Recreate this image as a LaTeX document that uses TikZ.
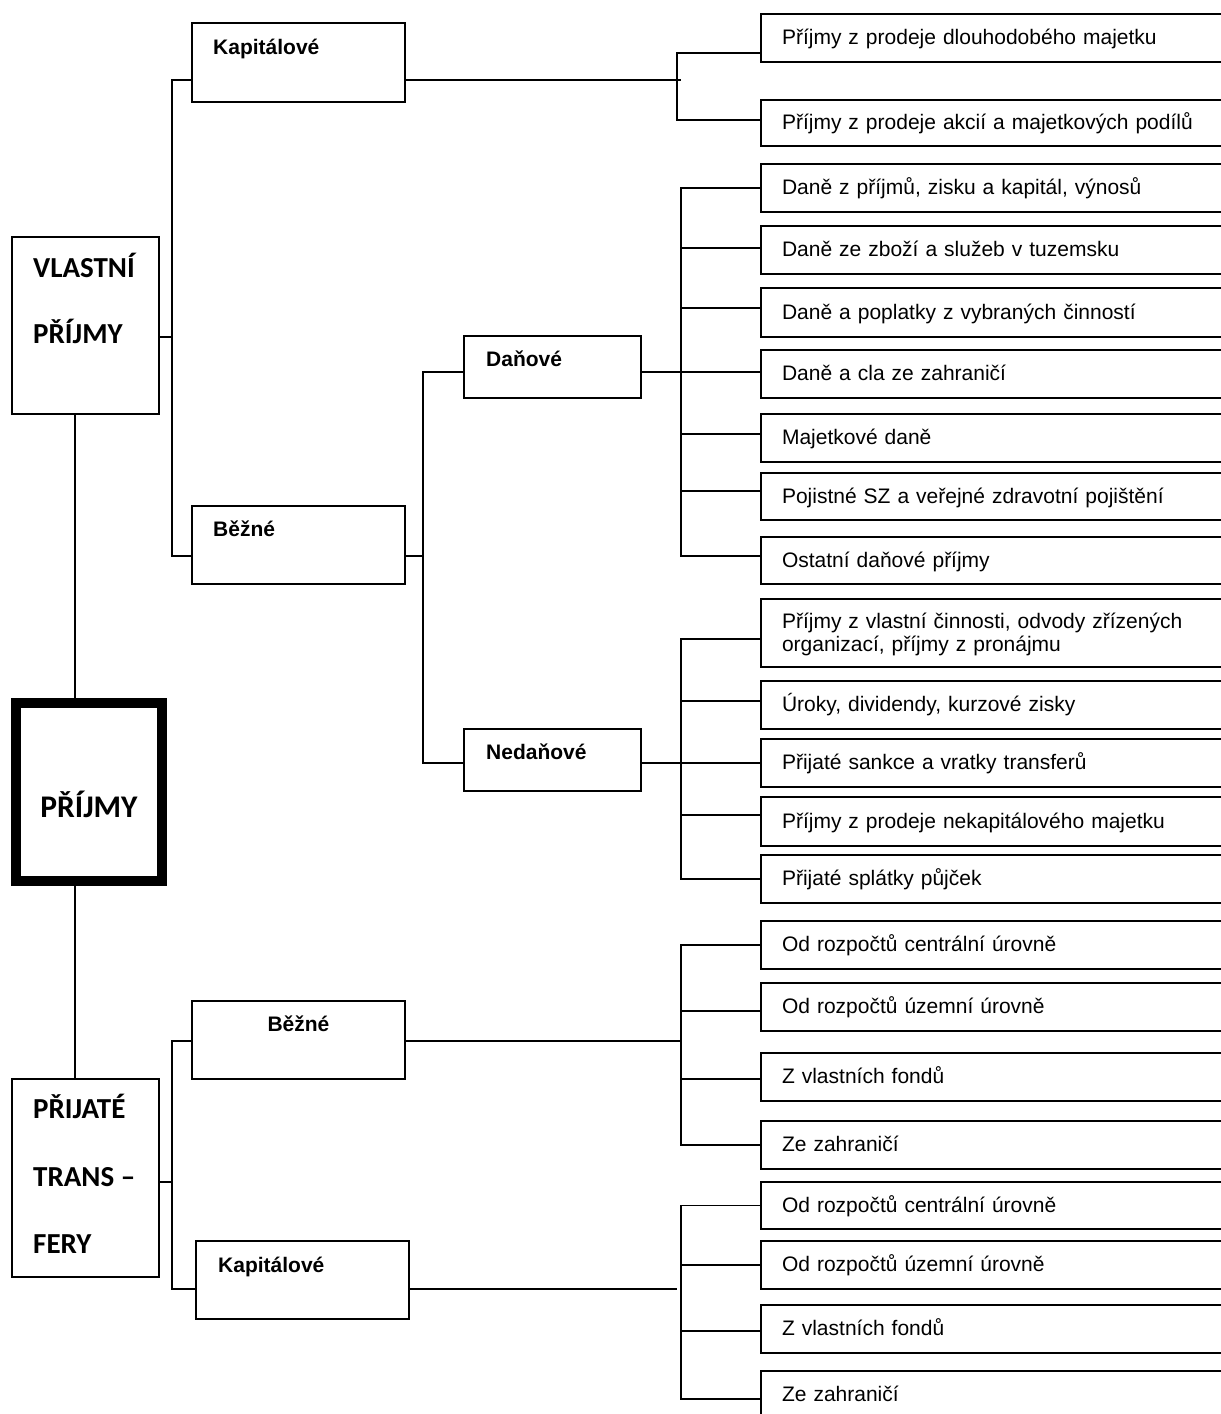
\documentclass[tikz,border=0pt]{standalone}
\usepackage{fontspec}
\setmainfont{Liberation Sans}
\newfontfamily\calfont{Carlito}
\begin{document}
\begin{tikzpicture}[x=1pt,y=-1pt,
  box/.style={draw, line width=2pt, inner sep=0pt, outer sep=0pt, anchor=north west},
  leaf/.style={draw, line width=2pt, anchor=north west, outer sep=0pt, inner xsep=21pt, inner ysep=0pt,
    minimum width=470pt, text width=428pt, align=left, text height=17pt, text depth=4pt,
    font=\fontsize{21}{23}\selectfont},
  lbl/.style={inner sep=0pt, anchor=base west, font=\fontsize{21}{23}\selectfont\bfseries},
  big/.style={inner sep=0pt, anchor=base west, font=\calfont\bfseries\fontsize{29}{30}\selectfont},
  conn/.style={line width=1.9pt},
  thinconn/.style={line width=1.5pt}]
\useasboundingbox (0,0) rectangle (1221,1414);
\clip (0,0) rectangle (1221,1414);

% ---------- main categories ----------
\node[box, minimum width=147pt, minimum height=177pt] (vp) at (12,237) {};
\node[big] (vpa) at ([xshift=21pt,yshift=-40pt]vp.north west) {VLASTNÍ};
\node[big] (vpb) at ([xshift=21pt,yshift=-106pt]vp.north west) {PŘÍJMY};

\node[draw, line width=10pt, inner sep=0pt, outer sep=0pt, anchor=north west,
      minimum width=146pt, minimum height=178pt] (prijmy) at (16,703) {};
\node[inner sep=0pt, anchor=base, font=\calfont\bfseries\fontsize{31.5}{33}\selectfont]
      (prijmyt) at ([yshift=-25pt]prijmy.center) {PŘÍJMY};

\node[box, minimum width=147pt, minimum height=198pt] (pt) at (12,1079) {};
\node[big] (pta) at ([xshift=21pt,yshift=-39pt]pt.north west) {PŘIJATÉ};
\node[big] (ptb) at ([xshift=21pt,yshift=-107pt]pt.north west) {TRANS –};
\node[big] (ptc) at ([xshift=21pt,yshift=-174pt]pt.north west) {FERY};

% ---------- second level ----------
\node[box, minimum width=213pt, minimum height=79pt] (kapA) at (192,23) {};
\node[lbl] (kapAt) at ([xshift=21pt,yshift=-31pt]kapA.north west) {Kapitálové};
\node[box, minimum width=213pt, minimum height=78pt] (bezA) at (192,506) {};
\node[lbl] (bezAt) at ([xshift=21pt,yshift=-30pt]bezA.north west) {Běžné};
\node[box, minimum width=213pt, minimum height=78pt] (bezB) at (192,1001) {};
\node[lbl, anchor=base] (bezBt) at ([yshift=-30pt]bezB.north) {Běžné};
\node[box, minimum width=213pt, minimum height=78pt] (kapB) at (196,1241) {};
\node[lbl] (kapBt) at ([xshift=22pt,yshift=-31pt]kapB.north west) {Kapitálové};

% ---------- third level ----------
\node[box, minimum width=177pt, minimum height=62pt] (dan) at (464,336) {};
\node[lbl] (dant) at ([xshift=22pt,yshift=-30pt]dan.north west) {Daňové};
\node[box, minimum width=177pt, minimum height=62pt] (ned) at (464,729) {};
\node[lbl] (nedt) at ([xshift=22pt,yshift=-30pt]ned.north west) {Nedaňové};

% ---------- leaves ----------
\node[leaf, minimum height=48pt] (r1) at (761,14) {Příjmy z prodeje dlouhodobého majetku};
\node[leaf, minimum height=46pt] (r2) at (761,100) {Příjmy z prodeje akcií a majetkových podílů};

\node[leaf, minimum height=48pt] (d1) at (761,164) {Daně z příjmů, zisku a kapitál, výnosů};
\node[leaf, minimum height=48pt] (d2) at (761,226) {Daně ze zboží a služeb v tuzemsku};
\node[leaf, minimum height=49pt] (d3) at (761,288) {Daně a poplatky z vybraných činností};
\node[leaf, minimum height=48pt] (d4) at (761,350) {Daně a cla ze zahraničí};
\node[leaf, minimum height=48pt] (d5) at (761,414) {Majetkové daně};
\node[leaf, minimum height=47pt] (d6) at (761,473) {Pojistné SZ a veřejné zdravotní pojištění};
\node[leaf, minimum height=47pt] (d7) at (761,537) {Ostatní daňové příjmy};

\node[leaf, minimum height=68pt, text height=17pt, text depth=27pt] (n1) at (761,599)
  {Příjmy z vlastní činnosti, odvody zřízených\\organizací, příjmy z pronájmu};
\node[leaf, minimum height=48pt] (n2) at (761,681) {Úroky, dividendy, kurzové zisky};
\node[leaf, minimum height=48pt] (n3) at (761,739) {Přijaté sankce a vratky transferů};
\node[leaf, minimum height=49pt] (n4) at (761,797) {Příjmy z prodeje nekapitálového majetku};
\node[leaf, minimum height=48pt] (n5) at (761,855) {Přijaté splátky půjček};

\node[leaf, minimum height=48pt] (b1) at (761,921) {Od rozpočtů centrální úrovně};
\node[leaf, minimum height=48pt] (b2) at (761,983) {Od rozpočtů územní úrovně};
\node[leaf, minimum height=48pt] (b3) at (761,1053) {Z vlastních fondů};
\node[leaf, minimum height=48pt] (b4) at (761,1121) {Ze zahraničí};

\node[leaf, minimum height=47pt] (k1) at (761,1182) {Od rozpočtů centrální úrovně};
\node[leaf, minimum height=48pt] (k2) at (761,1241) {Od rozpočtů územní úrovně};
\node[leaf, minimum height=48pt] (k3) at (761,1305) {Z vlastních fondů};
\node[leaf, minimum height=48pt] (k4) at (761,1371) {Ze zahraničí};

% ---------- junctions ----------
\coordinate (jv) at (172,337);
\coordinate (jt) at (172,1182);
\coordinate (jm) at (423,556);
\coordinate (jk) at (677,80);
\coordinate (jd) at (681,372);
\coordinate (jn) at (681,763);
\coordinate (jb) at (681,1041);
\coordinate (jkb) at (681,1289);

% ---------- trunk of the tree ----------
\draw[thinconn] ([xshift=-10.5pt]vp.south) -- ([xshift=-14pt]prijmy.north);
\draw[thinconn] ([xshift=-14pt]prijmy.south) -- ([xshift=-10.5pt]pt.north);

% own revenue -> capital / current
\draw[thinconn] ([yshift=-11.5pt]vp.east) -- (jv);
\draw[thinconn] ([yshift=-17.5pt]kapA.west) -| (jv) |- ([yshift=-11pt]bezA.west);

% received transfers -> current / capital
\draw[thinconn] ([yshift=-4pt]pt.east) -- (jt);
\draw[thinconn] ([yshift=-1pt]bezB.west) -| (jt) |- ([yshift=-9pt]kapB.west);

% current -> tax / non-tax
\draw[conn] ([yshift=-11pt]bezA.east) -- (jm);
\draw[conn] ([yshift=-5pt]dan.west) -| (jm) |- ([yshift=-3pt]ned.west);

% capital revenue items
\draw[conn] ([yshift=-17.5pt]kapA.east) -- ([xshift=4pt]jk);
\draw[conn] ([yshift=-15pt]r1.west) -| (jk) |- ([yshift=3pt]r2.west);

% tax revenue items
\draw[conn] ([yshift=-5pt]dan.east) -- ([yshift=2pt]d4.west);
\draw[conn] (d1.west) -| (jd) |- ([yshift=4.5pt]d7.west);
\draw[conn] ([yshift=2pt]d2.west) -- ++(-80,0);
\draw[conn] ([yshift=4.5pt]d3.west) -- ++(-80,0);
\draw[conn] ([yshift=4pt]d5.west) -- ++(-80,0);
\draw[conn] ([yshift=5.5pt]d6.west) -- ++(-80,0);

% non-tax revenue items
\draw[conn] ([yshift=-3pt]ned.east) -- (n3.west);
\draw[conn] ([yshift=-6pt]n1.west) -| (jn) |- (n5.west);
\draw[conn] ([yshift=4pt]n2.west) -- ++(-80,0);
\draw[conn] ([yshift=6.5pt]n4.west) -- ++(-80,0);

% current transfers
\draw[conn] ([yshift=-1pt]bezB.east) -- (jb);
\draw[conn] (b1.west) -| (jb) |- (b4.west);
\draw[conn] ([yshift=-4pt]b2.west) -- ++(-80,0);
\draw[conn] ([yshift=-2pt]b3.west) -- ++(-80,0);

% capital transfers
\draw[conn] ([yshift=-9pt]kapB.east) -- ([xshift=-4pt]jkb);
\draw[conn] (k1.west) -| (jkb) |- ([yshift=-4pt]k4.west);
\draw[conn] (k2.west) -- ++(-80,0);
\draw[conn] ([yshift=-2pt]k3.west) -- ++(-80,0);
\end{tikzpicture}
\end{document}
